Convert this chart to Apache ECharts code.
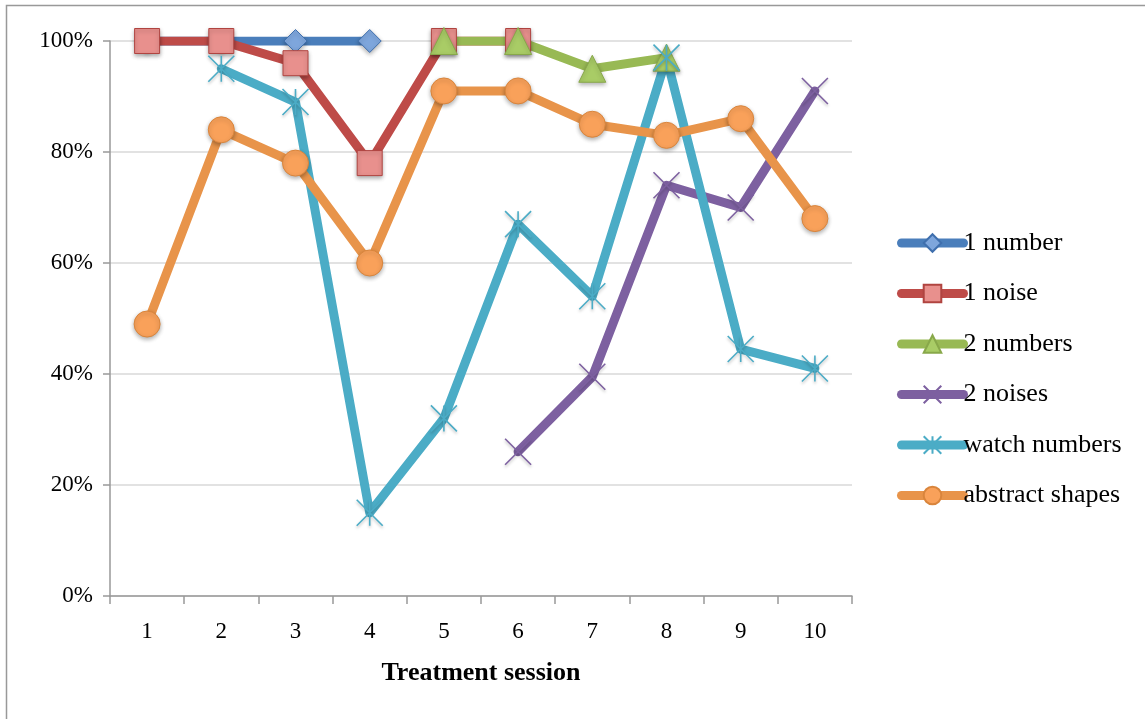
<!DOCTYPE html>
<html><head><meta charset="utf-8">
<script src="https://cdn.jsdelivr.net/npm/echarts@6/dist/echarts.min.js"></script>
<style>html,body{margin:0;padding:0;background:#fff}#c{width:1145px;height:719px}</style>
</head><body><div id="c"></div>
<script>
const categories = ['1','2','3','4','5','6','7','8','9','10'];
const oneNumber     = [100, 100, 100, 100, null, null, null, null, null, null];
const oneNoise      = [100, 100, 96, 78, 100, 100, null, null, null, null];
const twoNumbers    = [null, null, null, null, 100, 100, 95, 97, null, null];
const twoNoises     = [null, null, null, null, null, 26, 39.5, 74, 70, 91];
const watchNumbers  = [null, 95, 89, 15, 32, 67, 54, 97, 44.5, 41];
const abstractShapes= [49, 84, 78, 60, 91, 91, 85, 83, 86, 68];
const yTicks = [0, 20, 40, 60, 80, 100];

const FONT = '"Liberation Serif", "Times New Roman", serif';
const X_PATH = 'path://M0,0L10,10M10,0L0,10';
const STAR_PATH = 'path://M0,0L10,10M10,0L0,10M5,0L5,10';

function mk(name, data, line, fill, border, symbol, size, stroke) {
  return {
    name, type: 'line', data, connectNulls: false,
    symbol, symbolSize: size,
    lineStyle: { color: line, width: 9, cap: 'round', join: 'round' },
    itemStyle: stroke
      ? { color: 'rgba(0,0,0,0)', borderColor: border, borderWidth: 1.6,
          shadowColor: 'rgba(0,0,0,0.25)', shadowBlur: 3, shadowOffsetY: 2 }
      : { color: fill, borderColor: border, borderWidth: 1,
          shadowColor: 'rgba(0,0,0,0.3)', shadowBlur: 4, shadowOffsetY: 2 },
    emphasis: { disabled: true },
    z: 2
  };
}

const chart = echarts.init(document.getElementById('c'));
chart.setOption({
  animation: false,
  backgroundColor: '#fff',
  graphic: [{ type: 'rect', shape: { x: 6.5, y: 5.5, width: 1300, height: 800 },
    style: { fill: 'none', stroke: '#999', lineWidth: 1.5 }, silent: true }],
  grid: { left: 110, right: 293, top: 41, bottom: 123, containLabel: false },
  legend: {
    orient: 'vertical', left: 892, top: 225, itemGap: 24.5,
    itemWidth: 62, itemHeight: 22,
    lineStyle: { width: 9 },
    itemStyle: { shadowBlur: 0, shadowOffsetY: 0 },
    textStyle: { fontFamily: FONT, fontSize: 26, color: '#000', padding: [0, 0, 0, -5] },
    data: ['1 number','1 noise','2 numbers','2 noises','watch numbers','abstract shapes']
  },
  xAxis: {
    type: 'category', data: categories, boundaryGap: true,
    name: 'Treatment session', nameLocation: 'middle', nameGap: 64,
    nameTextStyle: { fontFamily: FONT, fontSize: 26, fontWeight: 'bold', color: '#000' },
    axisLine: { lineStyle: { color: '#999', width: 1.5 } },
    axisTick: { show: true, length: 8, alignWithLabel: false, lineStyle: { color: '#999', width: 1.5 } },
    axisLabel: { fontFamily: FONT, fontSize: 23, color: '#000', margin: 24 },
    splitLine: { show: false }
  },
  yAxis: {
    type: 'value', min: 0, max: 100, interval: 20,
    axisLine: { show: true, lineStyle: { color: '#999', width: 1.5 } },
    axisTick: { show: true, length: 7, lineStyle: { color: '#999', width: 1.5 } },
    axisLabel: { fontFamily: FONT, fontSize: 23, color: '#000', margin: 17,
      formatter: v => yTicks.includes(v) ? v + '%' : '' },
    splitLine: { lineStyle: { color: '#D9D9D9', width: 1.5 } }
  },
  series: [
    mk('1 number', oneNumber, '#4A7EBB', '#7EA6DC', '#3F6FAD', 'diamond', 23),
    mk('1 noise', oneNoise, '#BE4B48', '#E8908D', '#B04440', 'rect', 25),
    mk('2 numbers', twoNumbers, '#98B954', '#A9CC66', '#88A84A', 'triangle', 27),
    mk('2 noises', twoNoises, '#7D60A0', null, '#7D60A0', X_PATH, 26, true),
    mk('watch numbers', watchNumbers, '#4BACC6', null, '#4BACC6', STAR_PATH, 26, true),
    mk('abstract shapes', abstractShapes, '#E8944A', '#F9A15A', '#D9853C', 'circle', 26)
  ]
});
</script></body></html>
